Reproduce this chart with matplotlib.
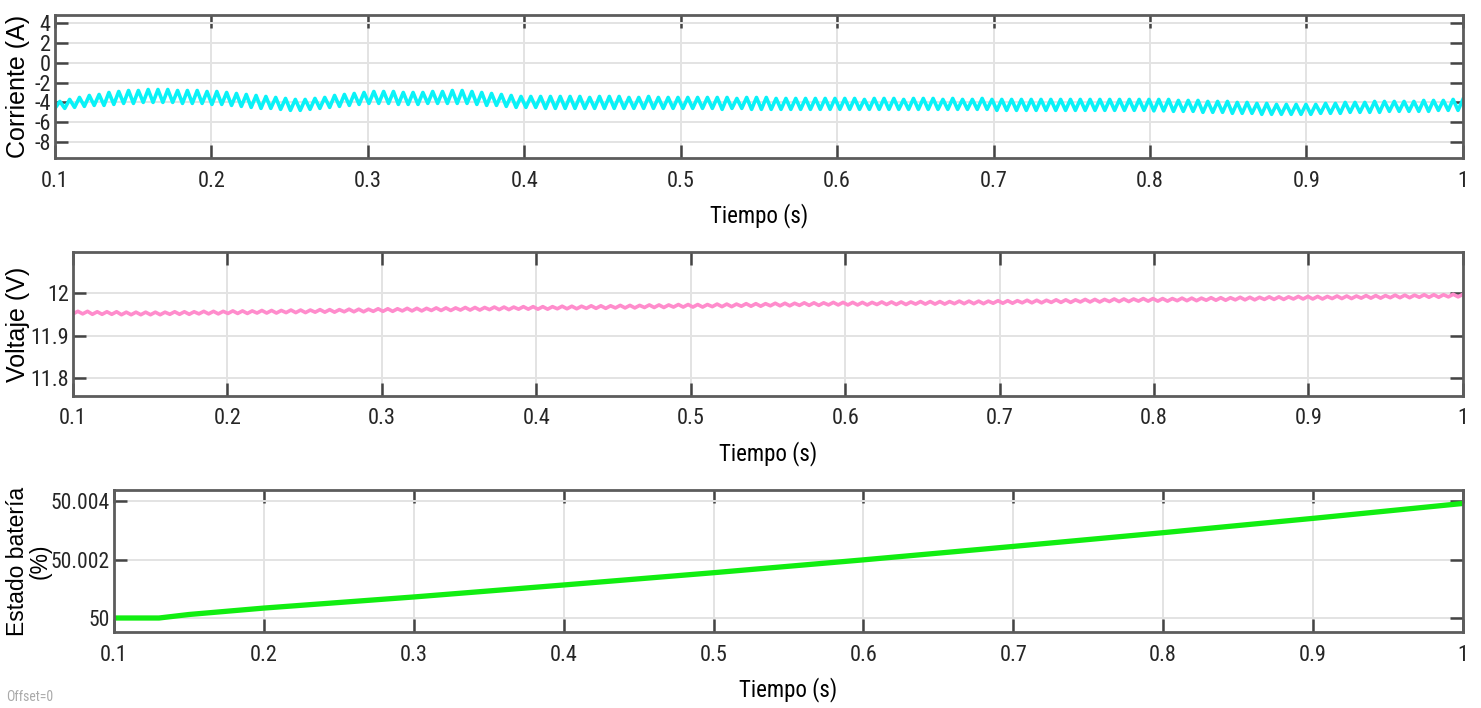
import numpy as np
import matplotlib.pyplot as plt
from matplotlib import font_manager

# the screenshot is squeezed sideways, so use a condensed face when one is installed
fuentes = font_manager.fontManager.ttflist
nombres = {f.name for f in fuentes}
fuente_estrecha = None
for nombre in ['Liberation Sans Narrow', 'Roboto Condensed', 'Arial Narrow', 'Open Sans Condensed']:
    if nombre in nombres:
        fuente_estrecha = {'family': nombre}
        break
if fuente_estrecha is None:
    if any(f.name == 'DejaVu Sans' and f.stretch == 'condensed' for f in fuentes):
        fuente_estrecha = {'family': 'DejaVu Sans', 'stretch': 'condensed'}
    else:
        fuente_estrecha = {'family': 'Liberation Sans'}
fuente_normal = 'Liberation Sans'

# ---- datos ----
# corriente: picos y valles de cada ciclo del rizado (16 ciclos por cada 0.1 s)
corriente_picos = [
    -3.9, -3.7, -3.5, -3.3, -3.2, -3.0, -2.9, -2.8, -2.8, -2.7, -2.7, -2.7, -2.8, -2.8, -2.8, -2.9,
    -2.9, -3.0, -3.1, -3.2, -3.3, -3.4, -3.5, -3.6, -3.7, -3.7, -3.6, -3.5, -3.3, -3.2, -3.1, -3.0,
    -2.9, -2.9, -2.9, -3.0, -3.0, -3.0, -2.9, -2.9, -2.8, -2.8, -2.9, -3.0, -3.1, -3.2, -3.3, -3.4,
    -3.4, -3.4, -3.4, -3.4, -3.4, -3.4, -3.5, -3.4, -3.4, -3.4, -3.5, -3.5, -3.4, -3.5, -3.5, -3.5,
    -3.5, -3.5, -3.5, -3.5, -3.5, -3.6, -3.5, -3.5, -3.5, -3.6, -3.6, -3.6, -3.6, -3.6, -3.6, -3.6,
    -3.6, -3.6, -3.7, -3.6, -3.6, -3.6, -3.7, -3.6, -3.6, -3.6, -3.7, -3.6, -3.7, -3.7, -3.6, -3.7,
    -3.7, -3.7, -3.7, -3.7, -3.7, -3.7, -3.7, -3.7, -3.7, -3.7, -3.7, -3.7, -3.7, -3.7, -3.7, -3.7,
    -3.7, -3.7, -3.8, -3.8, -3.8, -3.9, -3.9, -3.9, -4.0, -4.0, -4.1, -4.1, -4.2, -4.2, -4.2, -4.2,
    -4.2, -4.1, -4.1, -4.0, -4.0, -4.0, -3.9, -3.9, -3.9, -3.9, -3.9, -3.8, -3.8, -3.8, -3.7, -3.7,
]
corriente_valles = [
    -4.6, -4.6, -4.5, -4.4, -4.3, -4.3, -4.2, -4.1, -4.1, -4.0, -4.0, -4.0, -4.0, -4.1, -4.1, -4.1,
    -4.2, -4.2, -4.3, -4.4, -4.5, -4.6, -4.6, -4.7, -4.8, -4.8, -4.7, -4.6, -4.5, -4.4, -4.3, -4.2,
    -4.1, -4.1, -4.1, -4.2, -4.2, -4.2, -4.1, -4.1, -4.1, -4.1, -4.1, -4.2, -4.3, -4.3, -4.4, -4.5,
    -4.5, -4.5, -4.6, -4.6, -4.6, -4.6, -4.6, -4.6, -4.6, -4.6, -4.6, -4.6, -4.6, -4.6, -4.6, -4.6,
    -4.6, -4.6, -4.6, -4.6, -4.7, -4.6, -4.6, -4.7, -4.7, -4.7, -4.7, -4.7, -4.7, -4.7, -4.7, -4.7,
    -4.7, -4.7, -4.7, -4.7, -4.7, -4.7, -4.7, -4.7, -4.7, -4.7, -4.7, -4.7, -4.7, -4.7, -4.7, -4.7,
    -4.8, -4.8, -4.8, -4.8, -4.8, -4.8, -4.8, -4.8, -4.8, -4.8, -4.8, -4.8, -4.8, -4.8, -4.8, -4.8,
    -4.85, -4.85, -4.9, -4.9, -4.9, -5.0, -5.0, -5.0, -5.1, -5.1, -5.1, -5.2, -5.2, -5.2, -5.2, -5.2,
    -5.2, -5.1, -5.1, -5.1, -5.0, -5.0, -5.0, -5.0, -4.9, -4.9, -4.9, -4.9, -4.9, -4.8, -4.8, -4.8,
]

# voltaje: picos y valles del rizado
voltaje_picos = [
    11.957, 11.957, 11.956, 11.956, 11.956, 11.955, 11.955, 11.955, 11.955, 11.955, 11.956, 11.956, 11.956, 11.957, 11.957, 11.957,
    11.958, 11.958, 11.958, 11.959, 11.959, 11.959, 11.960, 11.960, 11.960, 11.961, 11.961, 11.961, 11.962, 11.962, 11.962, 11.963,
    11.963, 11.963, 11.964, 11.964, 11.964, 11.965, 11.965, 11.965, 11.966, 11.966, 11.966, 11.967, 11.967, 11.967, 11.968, 11.968,
    11.968, 11.968, 11.969, 11.969, 11.969, 11.970, 11.970, 11.970, 11.971, 11.971, 11.971, 11.972, 11.972, 11.972, 11.973, 11.973,
    11.973, 11.973, 11.974, 11.974, 11.974, 11.975, 11.975, 11.975, 11.976, 11.976, 11.976, 11.977, 11.977, 11.977, 11.978, 11.978,
    11.978, 11.978, 11.978, 11.979, 11.979, 11.979, 11.979, 11.980, 11.980, 11.980, 11.980, 11.981, 11.981, 11.981, 11.981, 11.982,
    11.982, 11.982, 11.983, 11.983, 11.983, 11.984, 11.984, 11.984, 11.985, 11.985, 11.985, 11.986, 11.986, 11.986, 11.987, 11.987,
    11.987, 11.987, 11.988, 11.988, 11.988, 11.989, 11.989, 11.989, 11.990, 11.990, 11.990, 11.991, 11.991, 11.991, 11.992, 11.992,
    11.992, 11.992, 11.993, 11.993, 11.993, 11.994, 11.994, 11.994, 11.995, 11.995, 11.995, 11.996, 11.996, 11.996, 11.997, 11.997,
]
voltaje_valles = [
    11.951, 11.951, 11.950, 11.950, 11.950, 11.949, 11.949, 11.949, 11.949, 11.949, 11.950, 11.950, 11.950, 11.951, 11.951, 11.951,
    11.952, 11.952, 11.952, 11.953, 11.953, 11.953, 11.954, 11.954, 11.954, 11.955, 11.955, 11.955, 11.956, 11.956, 11.956, 11.957,
    11.957, 11.957, 11.958, 11.958, 11.958, 11.959, 11.959, 11.959, 11.960, 11.960, 11.960, 11.961, 11.961, 11.961, 11.962, 11.962,
    11.962, 11.962, 11.963, 11.963, 11.963, 11.964, 11.964, 11.964, 11.965, 11.965, 11.965, 11.966, 11.966, 11.966, 11.967, 11.967,
    11.967, 11.967, 11.968, 11.968, 11.968, 11.969, 11.969, 11.969, 11.970, 11.970, 11.970, 11.971, 11.971, 11.971, 11.972, 11.972,
    11.972, 11.972, 11.972, 11.973, 11.973, 11.973, 11.973, 11.974, 11.974, 11.974, 11.974, 11.975, 11.975, 11.975, 11.975, 11.976,
    11.976, 11.976, 11.977, 11.977, 11.977, 11.978, 11.978, 11.978, 11.979, 11.979, 11.979, 11.980, 11.980, 11.980, 11.981, 11.981,
    11.981, 11.981, 11.982, 11.982, 11.982, 11.983, 11.983, 11.983, 11.984, 11.984, 11.984, 11.985, 11.985, 11.985, 11.986, 11.986,
    11.986, 11.986, 11.987, 11.987, 11.987, 11.988, 11.988, 11.988, 11.989, 11.989, 11.989, 11.990, 11.990, 11.990, 11.991, 11.991,
]

# estado de carga
soc_tiempo = [0.1, 0.13, 0.15, 0.2, 0.3, 0.4, 0.5, 0.6, 0.7, 0.8, 0.9, 1.0]
soc_valores = [50.0, 50.0, 50.00012, 50.00034, 50.00072, 50.00113, 50.00155,
               50.00199, 50.00245, 50.00292, 50.00341, 50.00392]

x_ticks = [0.1, 0.2, 0.3, 0.4, 0.5, 0.6, 0.7, 0.8, 0.9, 1.0]
x_tick_labels = ['0.1', '0.2', '0.3', '0.4', '0.5', '0.6', '0.7', '0.8', '0.9', '1']
corr_ticks = [4, 2, 0, -2, -4, -6, -8]
volt_ticks = [11.8, 11.9, 12.0]
volt_tick_labels = ['11.8', '11.9', '12']
soc_ticks = [50.0, 50.002, 50.004]
soc_tick_labels = ['50', '50.002', '50.004']


def zigzag(valles, picos):
    # alterna valle/pico en una rejilla de tiempo uniforme entre 0.1 y 1 s
    y = np.empty(2 * len(picos))
    y[0::2] = valles
    y[1::2] = picos
    t = np.linspace(0.1, 1.0, len(y))
    return t, y


color_borde = '#5c5c5c'


def estilo(ax, ylabel, yticks, ylabels, ylim, ylabel_x, ylabel_size=18, ytick_size=16):
    ax.set_xlim(0.1, 1.0)
    ax.set_ylim(*ylim)
    ax.set_xticks(x_ticks)
    ax.set_xticklabels(x_tick_labels, fontsize=16, color='#262626', **fuente_estrecha)
    ax.set_yticks(yticks)
    ax.set_yticklabels(ylabels, fontsize=ytick_size, color='#262626', **fuente_estrecha)
    ax.tick_params(direction='in', length=9.5, width=1.8, color='#444444',
                   top=True, right=True, pad=3)
    ax.tick_params(axis='x', pad=9)
    ax.grid(True, color='#e3e3e3', linewidth=1.4)
    ax.set_axisbelow(True)
    for s in ax.spines.values():
        s.set_color(color_borde)
        s.set_linewidth(2)
    ax.set_xlabel('Tiempo (s)', fontsize=16.5, labelpad=8, **fuente_estrecha)
    ax.set_ylabel(ylabel, fontname=fuente_normal, fontsize=ylabel_size, linespacing=0.95)
    ax.yaxis.set_label_coords(ylabel_x, 0.5)


fig = plt.figure(figsize=(14.81, 7.08), dpi=100)
ax1 = fig.add_axes([0.0371, 0.7768, 0.9507, 0.2020])
ax2 = fig.add_axes([0.0493, 0.4407, 0.9385, 0.2034])
ax3 = fig.add_axes([0.0770, 0.1073, 0.9108, 0.2006])

t, y = zigzag(corriente_valles, corriente_picos)
ax1.plot(t, y, color='#0af2f7', linewidth=2.6)
estilo(ax1, 'Corriente (A)', corr_ticks, [str(v) for v in corr_ticks], (-9.6, 4.8), -0.0178)

t, y = zigzag(voltaje_valles, voltaje_picos)
ax2.plot(t, y, color='#ff8ccc', linewidth=2.6)
estilo(ax2, 'Voltaje (V)', volt_ticks, volt_tick_labels, (11.758, 12.0965), -0.0309)

ax3.plot(soc_tiempo, soc_valores, color='#11ee11', linewidth=3.8)
estilo(ax3, 'Estado batería\n(%)', soc_ticks, soc_tick_labels, (49.99952, 50.00438), -0.0465,
       ylabel_size=16.5, ytick_size=15.5)

fig.text(0.004, 0.01, 'Offset=0', fontsize=10, color='#aaaaaa', **fuente_estrecha)

plt.savefig('out.png', dpi=100)
plt.close()
